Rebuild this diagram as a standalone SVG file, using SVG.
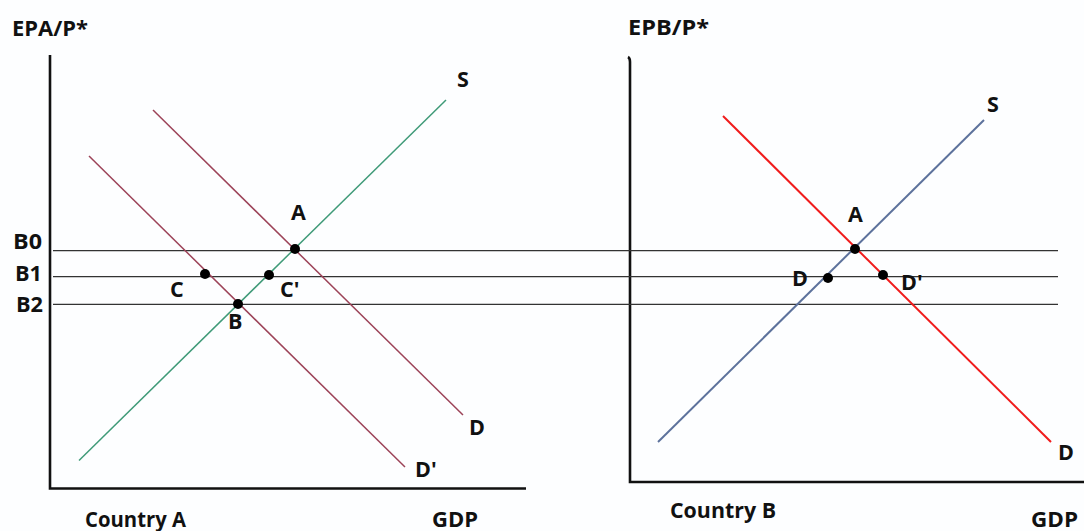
<svg xmlns="http://www.w3.org/2000/svg" width="1084" height="531" viewBox="0 0 1084 531">
<style>
text{font-family:"Open Sans","Liberation Sans",sans-serif;font-weight:700;font-size:21.5px;fill:#111}
.ax{stroke:#111;stroke-width:2.6;fill:none}
.h{stroke:#333;stroke-width:1.3}
.sA{stroke:#3f9a78;stroke-width:1.5}
.dA{stroke:#9c4358;stroke-width:1.5}
.sB{stroke:#5d729c;stroke-width:2}
.dB{stroke:#f01c1c;stroke-width:2}
.dot{fill:#000}
</style>
<rect width="1084" height="531" fill="#fdfeff"/>
<g id="axes">
<path class="ax" d="M50 55 V488.5 H526"/>
<path class="ax" d="M628 57 Q630 58 630 62 V482 H1084"/>
<text x="12" y="36" textLength="76" lengthAdjust="spacingAndGlyphs">EPA/P*</text>
<text x="628" y="35" textLength="81" lengthAdjust="spacingAndGlyphs">EPB/P*</text>
<text x="85" y="527" textLength="101" lengthAdjust="spacingAndGlyphs">Country A</text>
<text x="432" y="527" textLength="46" lengthAdjust="spacingAndGlyphs">GDP</text>
<text x="670" y="518" textLength="106" lengthAdjust="spacingAndGlyphs">Country B</text>
<text x="1031" y="527" textLength="47" lengthAdjust="spacingAndGlyphs">GDP</text>
</g>
<g id="connectors">
<line class="h" x1="53" y1="250.7" x2="1058" y2="250.7"/>
<line class="h" x1="53" y1="276.7" x2="1058" y2="276.7"/>
<line class="h" x1="53" y1="304.3" x2="1058" y2="304.3"/>
<line class="sA" x1="79" y1="460.5" x2="446" y2="100"/>
<line class="dA" x1="153" y1="110" x2="463" y2="415"/>
<line class="dA" x1="89" y1="156" x2="405" y2="467"/>
<line class="sB" x1="658" y1="442" x2="984" y2="120"/>
<line class="dB" x1="723" y1="116" x2="1051" y2="442"/>
</g>
<g id="levels">
<text x="13" y="249" textLength="29" lengthAdjust="spacingAndGlyphs">B0</text>
<text x="15" y="281" textLength="27" lengthAdjust="spacingAndGlyphs">B1</text>
<text x="16" y="312" textLength="27" lengthAdjust="spacingAndGlyphs">B2</text>
</g>
<g id="countryA-labels">
<text x="457" y="87">S</text>
<text x="469" y="435">D</text>
<text x="415" y="477">D'</text>
</g>
<g id="pointA-left"><circle class="dot" cx="295" cy="249" r="5"/><text x="291" y="220">A</text></g>
<g id="pointC"><circle class="dot" cx="205" cy="274" r="5"/><text x="170" y="297">C</text></g>
<g id="pointC2"><circle class="dot" cx="269" cy="275" r="5"/><text x="280" y="297">C'</text></g>
<g id="pointB"><circle class="dot" cx="238" cy="304" r="5"/><text x="228" y="329">B</text></g>
<g id="countryB-labels">
<text x="987" y="112">S</text>
<text x="1058" y="460">D</text>
</g>
<g id="pointA-right"><circle class="dot" cx="855" cy="249" r="5"/><text x="848" y="222">A</text></g>
<g id="pointD"><circle class="dot" cx="828" cy="278" r="5"/><text x="792" y="286">D</text></g>
<g id="pointD2"><circle class="dot" cx="883" cy="275" r="5"/><text x="901" y="290">D'</text></g>
</svg>
